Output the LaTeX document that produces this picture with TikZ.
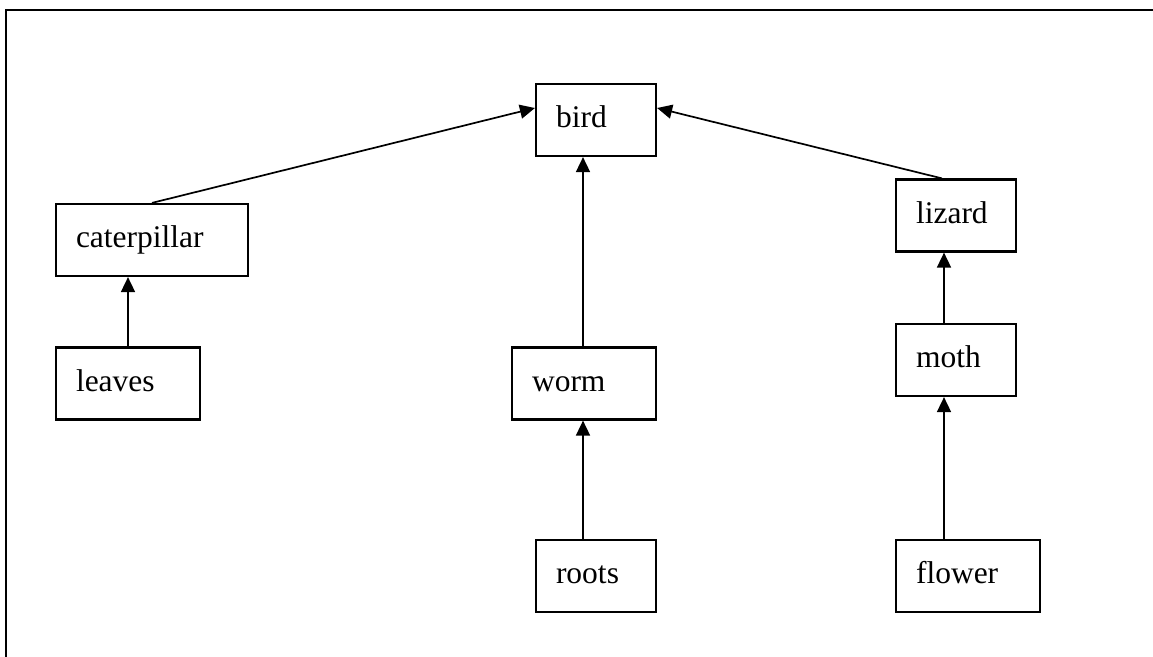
\documentclass[tikz,border=0pt]{standalone}
\usepackage{fontspec}
\setmainfont{Liberation Serif}
\usetikzlibrary{arrows.meta}

\tikzset{
  box/.style={draw, line width=2.2pt, rectangle, minimum height=72pt,
    inner xsep=20pt, inner ysep=0pt, align=left,
    text height=23.6pt, text depth=7.9pt,
    font=\fontsize{31.5}{38}\selectfont},
  link/.style={line width=1.7pt, -{Triangle[length=15pt, width=14pt]}},
  frame/.style={line width=2.2pt}
}

\begin{document}
\begin{tikzpicture}[x=1pt, y=-1pt]
  \useasboundingbox (0,0) rectangle (1153,656);

  % outer frame, running past the right and bottom edges
  \draw[frame] (6,10) rectangle (1175,690);

  % food-chain boxes
  \node[box, text width=80pt]  (bird)        at (596,120)   {bird};
  \node[box, text width=152pt] (caterpillar) at (152,240)   {caterpillar};
  \node[box, text width=104pt] (leaves)      at (128,383.5) {leaves};
  \node[box, text width=80pt]  (lizard)      at (956,215.5) {lizard};
  \node[box, text width=80pt]  (moth)        at (956,360)   {moth};
  \node[box, text width=104pt] (worm)        at (584,383.5) {worm};
  \node[box, text width=80pt]  (roots)       at (596,576)   {roots};
  \node[box, text width=104pt] (flower)      at (968,576)   {flower};

  % connectors
  \draw[link] (caterpillar.north) -- ([yshift=12pt]bird.west);
  \draw[link] ([xshift=-14pt]lizard.north) -- ([yshift=12pt]bird.east);
  \draw[link] ([xshift=-1pt]worm.north) -- ([xshift=-1pt]worm.north |- bird.south);
  \draw[link] (leaves.north) -- (leaves.north |- caterpillar.south);
  \draw[link] ([xshift=-12pt]moth.north) -- ([xshift=-12pt]moth.north |- lizard.south);
  \draw[link] ([xshift=-12pt]moth.south |- flower.north) -- ([xshift=-12pt]moth.south);
  \draw[link] ([xshift=-1pt]worm.south |- roots.north) -- ([xshift=-1pt]worm.south);
\end{tikzpicture}
\end{document}
